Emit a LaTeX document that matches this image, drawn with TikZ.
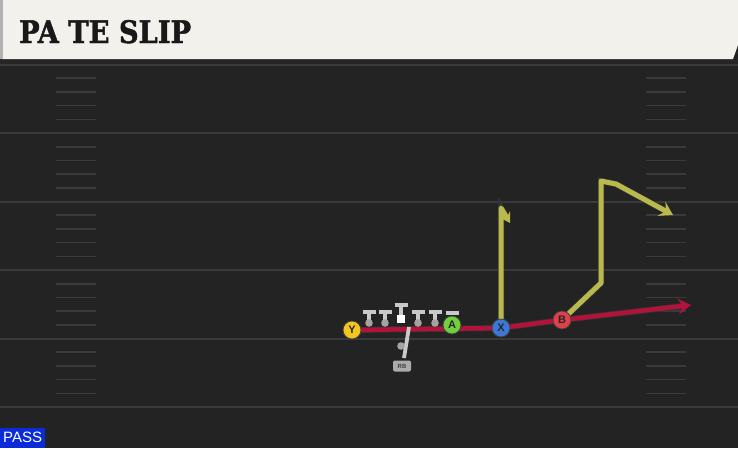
\documentclass[tikz,border=0pt]{standalone}
\usepackage{fontspec}
\setsansfont{Liberation Sans}
\newfontfamily\titlefont{DejaVu Serif}[FakeStretch=0.88, FakeBold=1.5]
\usetikzlibrary{arrows.meta, positioning}

\definecolor{turf}{HTML}{232323}
\definecolor{yardgray}{HTML}{3A3A3A}
\definecolor{bannerbg}{HTML}{F3F1EB}
\definecolor{blockred}{HTML}{B3123A}
\definecolor{routeyel}{HTML}{B9B94E}
\definecolor{ycol}{HTML}{F2C61F}
\definecolor{acol}{HTML}{72CF3C}
\definecolor{xcol}{HTML}{3D78D6}
\definecolor{bcol}{HTML}{E0404A}
\definecolor{linegray}{HTML}{C9C9C9}
\definecolor{dotgray}{HTML}{A3A3A3}
\definecolor{passblue}{HTML}{0B2BD9}

\tikzset{
	player/.style={circle, draw=black!75, line width=.8pt, minimum size=18pt, inner sep=0pt,
		font=\sffamily\bfseries\fontsize{11}{11}\selectfont, text=black!85},
	outline/.style={preaction={draw=black!80, line width=#1, -, shorten >=9pt}},
	block/.style={draw=blockred, line width=4.5pt, line join=round, outline=6pt},
	route/.style={draw=routeyel, line width=5pt, line join=round, outline=6.5pt},
	yard/.style={draw=yardgray, line width=2pt},
	hashmark/.style={draw=yardgray, line width=1.6pt},
	olbar/.style={draw=linegray, line width=4pt},
	olstem/.style={draw=linegray, line width=3.2pt}
}

\begin{document}
\begin{tikzpicture}[x=1pt, y=-1pt]
	\useasboundingbox (0,0) rectangle (738,448);
	\fill[turf] (0,0) rectangle (738,448);

	% --- field ---
	\foreach \k in {0,...,5}
		\draw[yard] (0,{64.5+68.5*\k}) -- (738,{64.5+68.5*\k});
	\foreach \k in {0,...,4}
		\foreach \j in {1,...,4} {
			\draw[hashmark] (56,{64.5+68.5*\k+13.7*\j}) -- +(40,0);
			\draw[hashmark] (646,{64.5+68.5*\k+13.7*\j}) -- +(40,0);
		}

	% --- banner ---
	\fill[black!85] (0,59) rectangle (738,64);
	\fill[bannerbg] (2,0) -- (738,0) -- (738,45) -- (733,59) -- (2,59) -- cycle;
	\fill[gray!60] (0,0) rectangle (2.5,59);
	\node[anchor=base west, inner sep=0pt, text=black!90,
		font=\titlefont\bfseries\fontsize{31}{31}\selectfont] (title) at (19,43) {PA TE SLIP};

	% --- spots ---
	\coordinate (ypos) at (352,330);
	\coordinate (apos) at (452,325);
	\coordinate (xpos) at (501,328);
	\coordinate (bpos) at (562,320);
	\coordinate (redend) at (691,305);
	\coordinate (xtop) at (501,208);
	\coordinate (xend) at (510,223);
	\coordinate (bbend) at (601,283);
	\coordinate (btop) at (601,181);
	\coordinate (bturn) at (616,184);
	\coordinate (bend) at (673,215);

	% --- routes ---
	\draw[block, -{Stealth[length=13pt, width=16pt, inset=5pt]}] (ypos) -- (xpos) -- (bpos) -- (redend);
	\draw[route, -{Stealth[length=10pt, width=12pt, inset=3.5pt]}] (xpos) -- (xtop) -- (xend);
	\draw[route, -{Stealth[length=13pt, width=16pt, inset=5pt]}] (bpos) -- (bbend) -- (btop) -- (bturn) -- (bend);

	% --- line ---
	\foreach \lx in {369,385,418,435} {
		\draw[olstem] (\lx,312) -- (\lx,321);
		\draw[olbar] (\lx-6.5,312) -- (\lx+6.5,312);
		\fill[dotgray] (\lx,323) circle (3.8pt);
	}
	\draw[olstem] (401,305) -- (401,316);
	\draw[olbar] (394.5,305) -- (407.5,305);
	\fill[white] (397,314.5) rectangle (405,322.5);
	\draw[olbar] (445.5,313) -- (458.5,313);

	% --- rb ---
	\draw[draw=linegray, line width=3.8pt] (409,327) -- (404,358);
	\fill[dotgray] (401,346) circle (3.8pt);
	\node[fill=linegray!85!black, rounded corners=2pt, inner sep=0pt, minimum width=18pt, minimum height=11pt,
		font=\sffamily\bfseries\fontsize{6}{6}\selectfont, text=black!75] (rb) at (402,366) {RB};

	% --- skill players ---
	\node[player, fill=ycol] (Y) at (ypos) {Y};
	\node[player, fill=acol] (A) at (apos) {A};
	\node[player, fill=xcol] (X) at (xpos) {X};
	\node[player, fill=bcol] (B) at (bpos) {B};

	\node[anchor=south west, fill=passblue, text=white, inner sep=0pt, minimum width=45pt, minimum height=20pt,
		font=\sffamily\fontsize{15}{15}\selectfont] (pass) at (0,448) {PASS};
\end{tikzpicture}
\end{document}
